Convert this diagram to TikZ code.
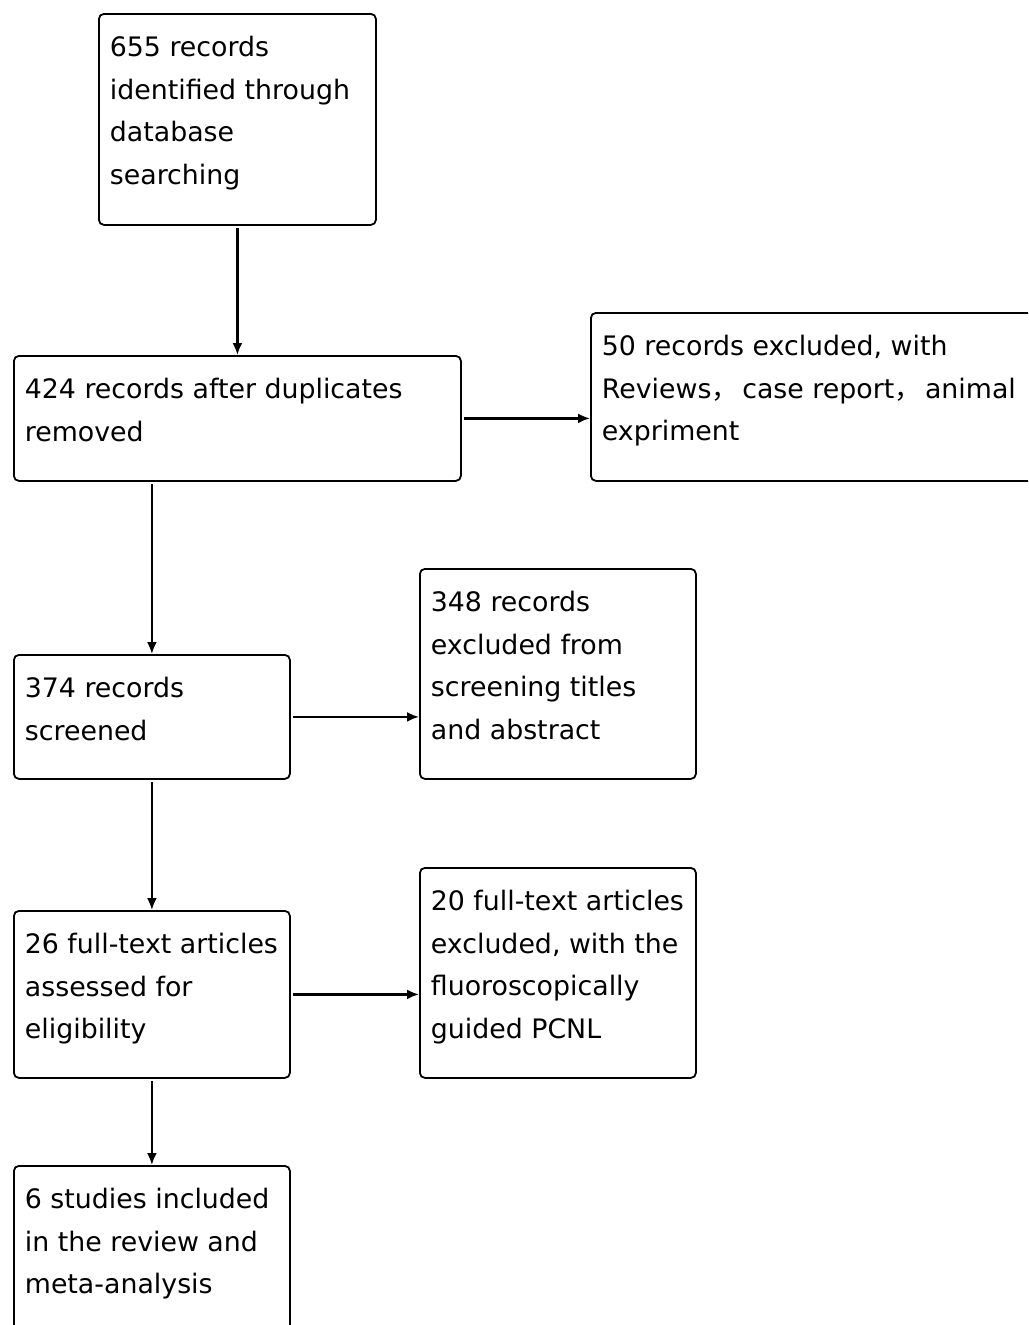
\documentclass[tikz,border=0pt]{standalone}
\usepackage{fontspec}
\setmainfont{DejaVu Sans}
\newfontfamily\cjk{Noto Sans CJK SC}
\usetikzlibrary{arrows.meta,calc}

\tikzset{
  flowbox/.style={draw=black, line width=1.8pt, rounded corners=5pt, anchor=north west, inner sep=0pt, fill=white},
  flowarrow/.style={line width=2.2pt, shorten <=2pt, -{Latex[length=12pt,width=10pt]}}
}
\newcommand{\btext}[3]{\parbox[t][#2pt][t]{#1pt}{\fontsize{26.8pt}{42.5pt}\selectfont\raggedright\leftskip=11pt\rule{0pt}{43pt}#3}}

\begin{document}
\begin{tikzpicture}[x=1pt,y=-1pt]
\useasboundingbox (0,0) rectangle (1028,1325);
\clip (0,0) rectangle (1028,1325);
\fill[white] (0,0) rectangle (1028,1325);

\node[flowbox] (b1) at (98,13) {\btext{277}{211}{655 records\\identified through\\database\\searching}};
\node[flowbox] (b2) at (13,355) {\btext{447}{125}{424 records after duplicates\\removed}};
\node[flowbox] (b3) at (590,312) {\btext{460}{168}{50 records excluded, with\\Reviews{\cjk ，}\hspace{4pt}case report{\cjk ，}\hspace{4pt}animal\\expriment}};
\node[flowbox] (b4) at (13,654) {\btext{276}{124}{374 records\\screened}};
\node[flowbox] (b5) at (419,568) {\btext{276}{210}{348 records\\excluded from\\screening titles\\and abstract}};
\node[flowbox] (b6) at (13,910) {\btext{276}{167}{26 full-text articles\\assessed for\\eligibility}};
\node[flowbox] (b7) at (419,867) {\btext{276}{210}{20 full-text articles\\excluded, with the\\fluoroscopically\\guided PCNL}};
\node[flowbox] (b8) at (13,1165) {\btext{276}{190}{6 studies included\\in the review and\\meta-analysis}};

\draw[flowarrow] (b1.south) -- (b2.north -| b1.south);
\draw[flowarrow] (b2.east) -- (b2.east -| b3.west);
\draw[flowarrow] (b4.north |- b2.south) -- (b4.north);
\draw[flowarrow] (b4.east) -- (b4.east -| b5.west);
\draw[flowarrow] (b4.south) -- (b6.north);
\draw[flowarrow] (b6.east) -- (b6.east -| b7.west);
\draw[flowarrow] (b6.south) -- (b8.north);
\end{tikzpicture}
\end{document}
